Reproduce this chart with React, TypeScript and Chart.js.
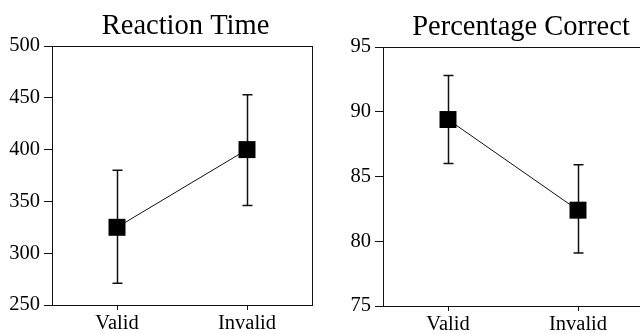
import React, { useEffect, useRef } from "react";
import { Chart, registerables } from "chart.js";

Chart.register(...registerables);

const categories = ["Valid", "Invalid"];

const rtTitle = "Reaction Time";
const rtMean = [325, 400];
const rtLower = [271, 346];
const rtUpper = [380, 453];
const rtMin = 250;
const rtMax = 500;
const rtStep = 50;

const pcTitle = "Percentage Correct";
const pcMean = [89.4, 82.4];
const pcLower = [86.0, 79.1];
const pcUpper = [92.8, 85.9];
const pcMin = 75;
const pcMax = 95;
const pcStep = 5;

const FONT = "'Liberation Serif', 'Times New Roman', serif";
const INK = "#111";

type PanelProps = {
  title: string;
  mean: number[];
  lower: number[];
  upper: number[];
  min: number;
  max: number;
  step: number;
  left: number;
  top: number;
  titleDx: number;
};

function Panel(p: PanelProps) {
  const ref = useRef<HTMLCanvasElement | null>(null);
  useEffect(() => {
    const canvas = ref.current;
    if (!canvas) return;
    const errorBars = {
      id: "errorBars",
      beforeDatasetsDraw(chart: any) {
        const ctx = chart.ctx;
        const xs = chart.scales.x;
        const ys = chart.scales.y;
        ctx.save();
        ctx.strokeStyle = INK;
        ctx.lineWidth = 1.5;
        for (let i = 0; i < p.mean.length; i++) {
          const x = Math.round(xs.getPixelForValue(i)) + 0.5;
          const yt = ys.getPixelForValue(p.upper[i]);
          const yb = ys.getPixelForValue(p.lower[i]);
          ctx.beginPath();
          ctx.moveTo(x, yt);
          ctx.lineTo(x, yb);
          ctx.moveTo(x - 5, yt);
          ctx.lineTo(x + 5, yt);
          ctx.moveTo(x - 5, yb);
          ctx.lineTo(x + 5, yb);
          ctx.stroke();
        }
        ctx.restore();
      },
    };
    const frameAndTitle = {
      id: "frameAndTitle",
      afterDraw(chart: any) {
        const ctx = chart.ctx;
        const a = chart.chartArea;
        ctx.save();
        ctx.strokeStyle = INK;
        ctx.lineWidth = 1;
        ctx.strokeRect(
          Math.round(a.left) + 0.5,
          Math.round(a.top) + 0.5,
          Math.round(a.right - a.left),
          Math.round(a.bottom - a.top)
        );
        ctx.fillStyle = "#000";
        ctx.font = `28.5px ${FONT}`;
        ctx.textAlign = "center";
        ctx.textBaseline = "alphabetic";
        ctx.fillText(p.title, (a.left + a.right) / 2 + p.titleDx, 33.5);
        ctx.restore();
      },
    };
    const chart = new Chart(canvas, {
      type: "line",
      data: {
        labels: categories,
        datasets: [
          {
            data: p.mean,
            borderColor: INK,
            borderWidth: 1,
            backgroundColor: "#000",
            pointStyle: "rect",
            pointRadius: 12,
            pointBorderWidth: 0,
            pointBackgroundColor: "#000",
            tension: 0,
            clip: false as any,
          },
        ],
      },
      options: {
        animation: false,
        responsive: false,
        devicePixelRatio: 1,
        layout: { autoPadding: false, padding: { top: 46, right: 8, left: 0, bottom: 0 } },
        plugins: {
          legend: { display: false },
          title: { display: false },
          tooltip: { enabled: false },
        },
        scales: {
          x: {
            type: "category",
            offset: true,
            grid: {
              drawOnChartArea: false,
              drawTicks: true,
              tickLength: 5,
              color: INK,
            },
            border: { display: true, color: INK, width: 1 },
            ticks: {
              color: "#000",
              font: { family: FONT, size: 20.5 },
              padding: 1.5,
              maxRotation: 0,
            },
            afterFit: (s: any) => {
              s.height = 29;
            },
          },
          y: {
            min: p.min,
            max: p.max,
            grid: {
              drawOnChartArea: false,
              drawTicks: true,
              tickLength: 8,
              color: INK,
            },
            border: { display: true, color: INK, width: 1 },
            ticks: {
              stepSize: p.step,
              color: "#000",
              font: { family: FONT, size: 20.5 },
              padding: 4,
            },
            afterFit: (s: any) => {
              s.width = 52;
            },
          },
        },
      } as any,
      plugins: [errorBars, frameAndTitle],
    });
    return () => chart.destroy();
  }, []);
  return (
    <canvas
      ref={ref}
      width={320}
      height={334}
      style={{ position: "absolute", left: p.left, top: p.top, width: 320, height: 334 }}
    />
  );
}

export default function App() {
  return (
    <div
      style={{
        position: "fixed",
        left: 0,
        top: 0,
        width: 640,
        height: 334,
        overflow: "hidden",
        background: "#fff",
      }}
    >
      <Panel
        title={rtTitle}
        mean={rtMean}
        lower={rtLower}
        upper={rtUpper}
        min={rtMin}
        max={rtMax}
        step={rtStep}
        left={0}
        top={0}
        titleDx={3.5}
      />
      <Panel
        title={pcTitle}
        mean={pcMean}
        lower={pcLower}
        upper={pcUpper}
        min={pcMin}
        max={pcMax}
        step={pcStep}
        left={331}
        top={1}
        titleDx={8}
      />
    </div>
  );
}
